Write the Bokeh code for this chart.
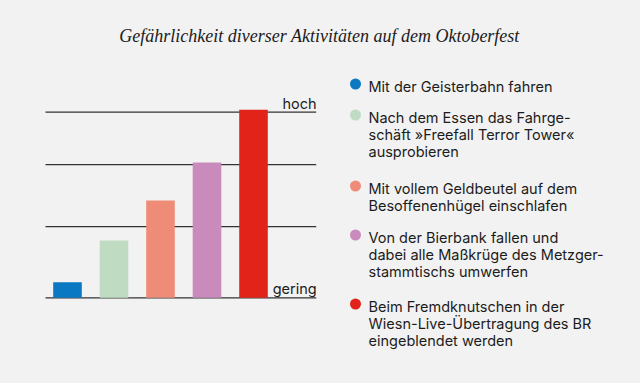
from bokeh.plotting import figure
from bokeh.models import Range1d, Label, ColumnDataSource
from bokeh.embed import file_html
from bokeh.resources import INLINE

# ---- data ----
activities = [
    ["Mit der Geisterbahn fahren"],
    ["Nach dem Essen das Fahrge-", "schäft »Freefall Terror Tower«", "ausprobieren"],
    ["Mit vollem Geldbeutel auf dem", "Besoffenenhügel einschlafen"],
    ["Von der Bierbank fallen und", "dabei alle Maßkrüge des Metzger-", "stammtischs umwerfen"],
    ["Beim Fremdknutschen in der", "Wiesn-Live-Übertragung des BR", "eingeblendet werden"],
]
danger = [8.4, 30.9, 52.4, 72.9, 101.3]
colors = ["#0a78c2", "#bfdcc3", "#ee8c77", "#c98bbc", "#e2231a"]
levels = [0, 38.4, 71.8, 100]
level_labels = {0: "gering", 100: "hoch"}
title = "Gefährlichkeit diverser Aktivitäten auf dem Oktoberfest"

W, H = 640, 383
BG = "#f2f2f2"
TXT = "#1c1c1c"
SANS = "Inter"

# layout: pixel mapping
X0_PX, DX_PX = 67.0, 46.5      # x=1 at px 67, 46.5 px per category
Y0_PX, DY_PX = 297.3, 1.856    # value 0 at px 297.3, 1.856 px per unit

def px_to_x(px):
    return 1 + (px - X0_PX) / DX_PX

def px_to_y(py):
    return (Y0_PX - py) / DY_PX

p = figure(width=W, height=H, output_backend="svg", toolbar_location=None,
           x_range=Range1d(px_to_x(0), px_to_x(W)),
           y_range=Range1d(px_to_y(H), px_to_y(0)),
           min_border=0, min_border_left=0, min_border_right=0,
           min_border_top=0, min_border_bottom=0)
p.axis.visible = False
p.grid.visible = False
p.outline_line_color = None
p.background_fill_color = BG
p.border_fill_color = BG

xs = list(range(1, len(danger) + 1))

# gridlines
gx0, gx1 = px_to_x(45), px_to_x(315.7)
p.segment(x0=[gx0] * len(levels), x1=[gx1] * len(levels), y0=levels, y1=levels,
          line_color="#333333", line_width=1.3)

# bars
src = ColumnDataSource(dict(x=xs, top=danger, color=colors))
p.vbar(x="x", top="top", bottom=0, width=28.6 / DX_PX, fill_color="color",
       line_color=None, source=src)

for lv, txt in level_labels.items():
    p.add_layout(Label(x=gx1 + 0.01, y=lv, text=txt, text_align="right",
                       text_baseline="alphabetic", y_offset=9,
                       text_font=SANS, text_font_size="14.5px", text_color=TXT))

# title
p.add_layout(Label(x=319, y=H - 35.5, x_units="screen", y_units="screen",
                   text=title, text_align="center", text_baseline="alphabetic",
                   text_font="Liberation Serif", text_font_style="italic",
                   text_font_size="18px", text_color=TXT))

# legend
first_baselines = [90, 121, 192, 241, 310]
LINE_H = 17
SHIFT = 4
dot_x, dot_y = [], []
for i, lines in enumerate(activities):
    b0 = first_baselines[i]
    dot_x.append(px_to_x(355))
    dot_y.append(px_to_y(b0 - 6.5))
    for j, line in enumerate(lines):
        b = b0 + j * LINE_H - SHIFT
        p.add_layout(Label(x=368, y=H - b, x_units="screen", y_units="screen",
                           text=line, text_align="left", text_baseline="alphabetic",
                           text_font=SANS, text_font_size="14.5px", text_color=TXT))
p.scatter(x=dot_x, y=dot_y, size=11, fill_color=colors, line_color=None)

html = file_html(p, INLINE)
html = html.replace("<head>", "<head><style>html,body{background:#f2f2f2;}</style>", 1)
open("out.html", "w").write(html)
